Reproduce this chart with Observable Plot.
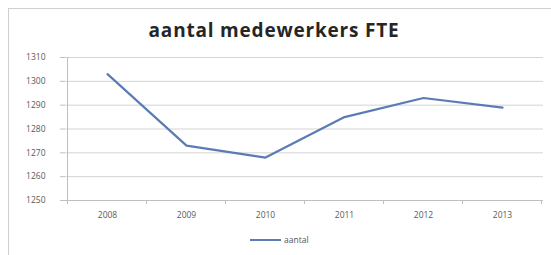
<!DOCTYPE html>
<html><head><meta charset="utf-8">
<script src="https://cdn.jsdelivr.net/npm/d3@7"></script>
<script src="https://cdn.jsdelivr.net/npm/@observablehq/plot@0.6"></script>
<style>
html,body{margin:0;padding:0;background:#fff;}
#wrap{position:relative;width:551px;height:255px;overflow:hidden;font-family:"Open Sans",sans-serif;}
#frame{position:absolute;left:8px;top:8px;width:560px;height:260px;border:1px solid #cfcfcf;box-sizing:border-box;}
#title{position:absolute;left:0;width:548px;top:17px;text-align:center;font-weight:bold;font-size:19px;letter-spacing:0.8px;color:#262626;}
#legend{position:absolute;left:250px;top:234px;font-size:8.5px;color:#555;display:flex;align-items:center;}
#legend span.sw{display:inline-block;width:31px;height:2px;background:#5b7bb5;margin-right:3px;}
#chart{position:absolute;left:0;top:0;}
</style></head>
<body><div id="wrap"><div id="frame"></div><div id="chart"></div><div id="title">aantal medewerkers FTE</div><div id="legend"><span class="sw"></span>aantal</div></div>
<script>
const years = ["2008","2009","2010","2011","2012","2013"];
const aantal = [1303, 1273, 1268, 1285, 1293, 1289];
const yTicks = [1250,1260,1270,1280,1290,1300,1310];
const data = years.map((y,i)=>({year:y, value:aantal[i]}));

const boundaryTicks = (index, scales, values, dims) => {
  const g = d3.create("svg:g");
  const xs = years.map(y => scales.x(y));
  const s = xs[1]-xs[0];
  const y0 = scales.y(1250);
  const pts = xs.map(x=>x - s/2).concat([xs[xs.length-1]+s/2]);
  for (const p of pts) {
    g.append("line").attr("x1",p).attr("x2",p).attr("y1",y0).attr("y2",y0+4).attr("stroke","#bfbfbf");
  }
  g.append("line").attr("x1",pts[0]).attr("x2",pts[0]).attr("y1",scales.y(1310)).attr("y2",y0).attr("stroke","#bfbfbf");
  return g.node();
};

const chart = Plot.plot({
  width: 551, height: 255,
  marginLeft: 65, marginRight: 8, marginTop: 57, marginBottom: 55,
  style: {fontFamily: "Open Sans, sans-serif", fontSize: "8.5px", color:"#595959", background:"transparent"},
  x: {type:"point", domain: years, padding: 0.5, label: null},
  y: {domain:[1250,1310], ticks: yTicks, label: null},
  marks: [
    Plot.ruleY(yTicks, {stroke:"#d4d4d4", strokeWidth:1}),
    Plot.axisY({ticks: yTicks, tickSize: 5, tickPadding: 15, stroke:"#bfbfbf", fill:"#595959", tickFormat: d=>String(d)}),
    Plot.ruleY([1250], {stroke:"#bfbfbf"}),
    boundaryTicks,
    Plot.axisX({tickSize: 0, tickPadding: 11, fill:"#595959"}),
    Plot.line(data, {x:"year", y:"value", stroke:"#5b7bb5", strokeWidth:2.2})
  ]
});
document.getElementById("chart").appendChild(chart);
</script></body></html>
